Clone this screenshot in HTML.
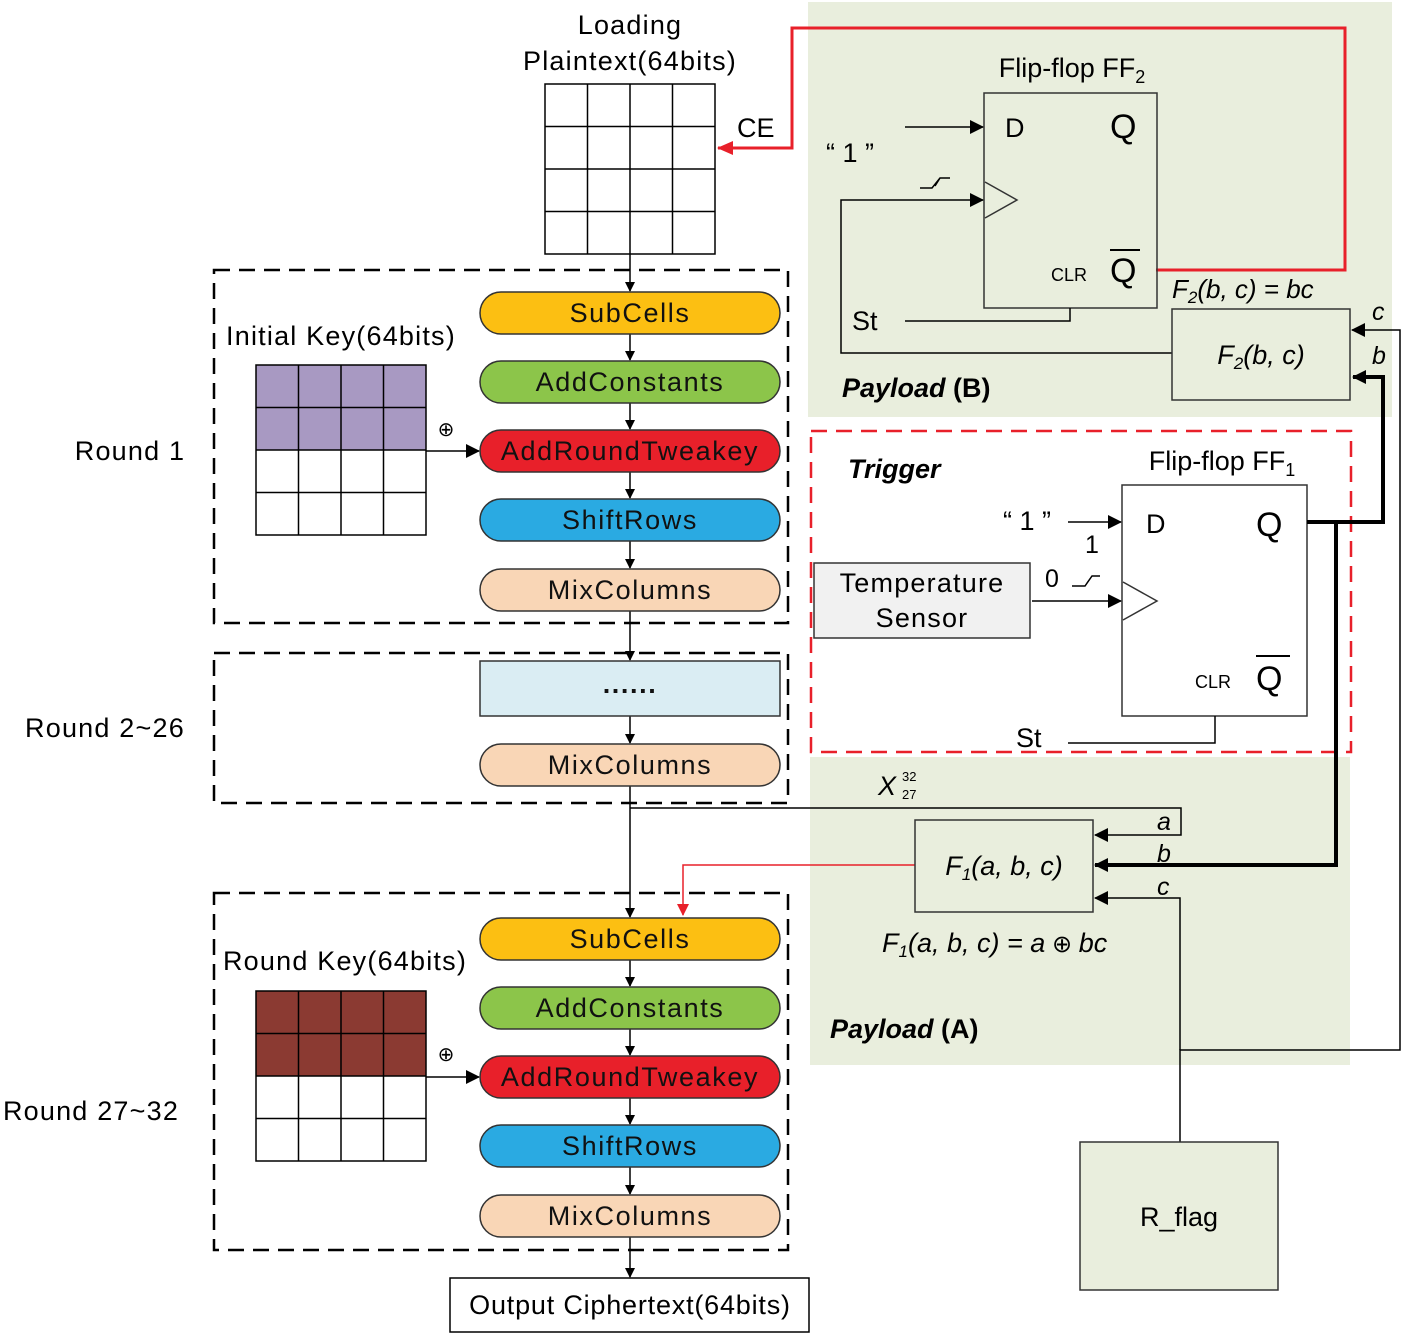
<!DOCTYPE html>
<html><head><meta charset="utf-8"><style>
html,body{margin:0;padding:0;background:#fff;}
svg{display:block;font-family:"Liberation Sans",Arial,sans-serif;}
.w{letter-spacing:1.2px;}
</style></head><body>
<svg width="1405" height="1337" viewBox="0 0 1405 1337" xmlns="http://www.w3.org/2000/svg">
<defs>
<marker id="ar" markerWidth="10" markerHeight="10" refX="9" refY="5" orient="auto" markerUnits="userSpaceOnUse"><path d="M0,0 L10,5 L0,10 z" fill="#000"/></marker>
<marker id="arb" markerWidth="14" markerHeight="14" refX="13" refY="7" orient="auto" markerUnits="userSpaceOnUse"><path d="M0,0 L14,7 L0,14 z" fill="#000"/></marker>
<marker id="arr" markerWidth="16" markerHeight="14" refX="15" refY="7" orient="auto" markerUnits="userSpaceOnUse"><path d="M0,0 L16,7 L0,14 z" fill="#e8202a"/></marker>
<marker id="arr2" markerWidth="12" markerHeight="12" refX="11" refY="6" orient="auto" markerUnits="userSpaceOnUse"><path d="M0,0 L12,6 L0,12 z" fill="#e8202a"/></marker>
</defs>

<rect x="808" y="2" width="584" height="415" fill="#e9eedd"/>
<rect x="810" y="757" width="540" height="308" fill="#e9eedd"/>

<text x="630" y="34" font-size="27" text-anchor="middle" class="w">Loading</text>
<text x="630" y="70" font-size="27" text-anchor="middle" class="w">Plaintext(64bits)</text>
<g stroke="#000" stroke-width="1.5" fill="#fff">
<rect x="545" y="84" width="170" height="170"/>
<path d="M587.5,84V254M630,84V254M672.5,84V254M545,126.5H715M545,169H715M545,211.5H715"/>
</g>
<text x="737" y="137" font-size="27">CE</text>

<polyline points="1156,270 1345,270 1345,28 792,28 792,148 718,148" fill="none" stroke="#e8202a" stroke-width="3" marker-end="url(#arr)"/>

<g fill="none" stroke="#000" stroke-width="2.5" stroke-dasharray="16,9">
<rect x="214" y="270" width="574" height="353"/>
<rect x="214" y="653" width="574" height="150"/>
<rect x="214" y="893" width="574" height="357"/>
</g>
<text x="130" y="460" font-size="27" text-anchor="middle" class="w">Round 1</text>
<text x="105" y="737" font-size="27" text-anchor="middle" class="w">Round 2~26</text>
<text x="91" y="1120" font-size="27" text-anchor="middle" class="w">Round 27~32</text>

<g stroke="#000" stroke-width="1.5" fill="none">
<line x1="630" y1="254" x2="630" y2="291" marker-end="url(#ar)"/>
<line x1="630" y1="334" x2="630" y2="360" marker-end="url(#ar)"/>
<line x1="630" y1="403" x2="630" y2="429" marker-end="url(#ar)"/>
<line x1="630" y1="472" x2="630" y2="498" marker-end="url(#ar)"/>
<line x1="630" y1="541" x2="630" y2="568" marker-end="url(#ar)"/>
<line x1="630" y1="611" x2="630" y2="660" marker-end="url(#ar)"/>
<line x1="630" y1="716" x2="630" y2="743" marker-end="url(#ar)"/>
<line x1="630" y1="786" x2="630" y2="917" marker-end="url(#ar)"/>
<line x1="630" y1="960" x2="630" y2="986" marker-end="url(#ar)"/>
<line x1="630" y1="1029" x2="630" y2="1055" marker-end="url(#ar)"/>
<line x1="630" y1="1098" x2="630" y2="1124" marker-end="url(#ar)"/>
<line x1="630" y1="1167" x2="630" y2="1194" marker-end="url(#ar)"/>
<line x1="630" y1="1237" x2="630" y2="1277" marker-end="url(#ar)"/>
<line x1="426" y1="451" x2="479" y2="451" marker-end="url(#arb)"/>
<line x1="426" y1="1077" x2="479" y2="1077" marker-end="url(#arb)"/>
</g>

<g stroke="#333" stroke-width="1.5">
<rect x="480" y="292" width="300" height="42" rx="21" fill="#fcbf12"/>
<rect x="480" y="361" width="300" height="42" rx="21" fill="#8cc54a"/>
<rect x="480" y="430" width="300" height="42" rx="21" fill="#e8202a"/>
<rect x="480" y="499" width="300" height="42" rx="21" fill="#2aaae2"/>
<rect x="480" y="569" width="300" height="42" rx="21" fill="#f9d6b6"/>
<rect x="480" y="661" width="300" height="55" fill="#daedf3"/>
<rect x="480" y="744" width="300" height="42" rx="21" fill="#f9d6b6"/>
<rect x="480" y="918" width="300" height="42" rx="21" fill="#fcbf12"/>
<rect x="480" y="987" width="300" height="42" rx="21" fill="#8cc54a"/>
<rect x="480" y="1056" width="300" height="42" rx="21" fill="#e8202a"/>
<rect x="480" y="1125" width="300" height="42" rx="21" fill="#2aaae2"/>
<rect x="480" y="1195" width="300" height="42" rx="21" fill="#f9d6b6"/>
</g>
<g font-size="27" text-anchor="middle" fill="#111" style="letter-spacing:1.6px">
<text x="630" y="322">SubCells</text>
<text x="630" y="391">AddConstants</text>
<text x="630" y="460">AddRoundTweakey</text>
<text x="630" y="529">ShiftRows</text>
<text x="630" y="599">MixColumns</text>
<text x="630" y="693" font-weight="bold">......</text>
<text x="630" y="774">MixColumns</text>
<text x="630" y="948">SubCells</text>
<text x="630" y="1017">AddConstants</text>
<text x="630" y="1086">AddRoundTweakey</text>
<text x="630" y="1155">ShiftRows</text>
<text x="630" y="1225">MixColumns</text>
</g>

<text x="341" y="345" font-size="27" text-anchor="middle" class="w">Initial Key(64bits)</text>
<rect x="256" y="365" width="170" height="85" fill="#a899c2"/>
<g stroke="#000" stroke-width="1.5" fill="none">
<rect x="256" y="365" width="170" height="170"/>
<path d="M298.5,365V535M341,365V535M383.5,365V535M256,407.5H426M256,450H426M256,492.5H426"/>
</g>
<text x="446" y="436" font-size="20" text-anchor="middle">⊕</text>

<text x="345" y="970" font-size="27" text-anchor="middle" class="w">Round Key(64bits)</text>
<rect x="256" y="991" width="170" height="85" fill="#8b3a32"/>
<g stroke="#000" stroke-width="1.5" fill="none">
<rect x="256" y="991" width="170" height="170"/>
<path d="M298.5,991V1161M341,991V1161M383.5,991V1161M256,1033.5H426M256,1076H426M256,1118.5H426"/>
</g>
<text x="446" y="1061" font-size="20" text-anchor="middle">⊕</text>

<rect x="450" y="1278" width="359" height="54" fill="#fff" stroke="#000" stroke-width="1.5"/>
<text x="630" y="1314" font-size="27" text-anchor="middle" style="letter-spacing:0.8px">Output Ciphertext(64bits)</text>

<text x="1072" y="77" font-size="27" text-anchor="middle">Flip-flop FF<tspan font-size="18" dy="6">2</tspan></text>
<rect x="984" y="93" width="173" height="215" fill="none" stroke="#333" stroke-width="1.5"/>
<polyline points="985,182 1017,200 985,218" fill="none" stroke="#333" stroke-width="1.5"/>
<text x="1005" y="137" font-size="27">D</text>
<text x="1110" y="138" font-size="34">Q</text>
<text x="1110" y="282" font-size="34">Q</text>
<line x1="1110" y1="250" x2="1140" y2="250" stroke="#000" stroke-width="2"/>
<text x="1051" y="281" font-size="18">CLR</text>
<text x="826" y="162" font-size="27">“ 1 ”</text>
<g stroke="#000" stroke-width="1.5" fill="none">
<line x1="905" y1="127" x2="983" y2="127" marker-end="url(#arb)"/>
<polyline points="1172,353 841,353 841,200 983,200" marker-end="url(#arb)"/>
<polyline points="905,321 1070,321 1070,308"/>
<path d="M920,188H932L940,178H950M935,186L940,178"/>
</g>
<text x="852" y="330" font-size="27">St</text>
<text x="1172" y="298" font-size="26" font-style="italic">F<tspan font-size="17" dy="5">2</tspan><tspan dy="-5">(b, c) = bc</tspan></text>
<rect x="1172" y="309" width="178" height="91" fill="none" stroke="#333" stroke-width="1.5"/>
<text x="1261" y="364" font-size="27" font-style="italic" text-anchor="middle">F<tspan font-size="17" dy="5">2</tspan><tspan dy="-5">(b, c)</tspan></text>
<text x="1372" y="320" font-size="25" font-style="italic">c</text>
<text x="1372" y="364" font-size="25" font-style="italic">b</text>
<text x="842" y="397" font-size="27" font-weight="bold"><tspan font-style="italic">Payload</tspan> (B)</text>

<rect x="811" y="431" width="540" height="321" fill="none" stroke="#e8202a" stroke-width="2.5" stroke-dasharray="16,9"/>
<text x="848" y="478" font-size="27" font-weight="bold" font-style="italic">Trigger</text>
<text x="1222" y="470" font-size="27" text-anchor="middle">Flip-flop FF<tspan font-size="18" dy="6">1</tspan></text>
<rect x="1122" y="485" width="185" height="231" fill="#fff" stroke="#333" stroke-width="1.5"/>
<polyline points="1123,582 1157,601 1123,620" fill="none" stroke="#333" stroke-width="1.5"/>
<text x="1146" y="533" font-size="27">D</text>
<text x="1256" y="536" font-size="34">Q</text>
<text x="1256" y="690" font-size="34">Q</text>
<line x1="1256" y1="656" x2="1290" y2="656" stroke="#000" stroke-width="2"/>
<text x="1195" y="688" font-size="18">CLR</text>
<text x="1003" y="530" font-size="27">“ 1 ”</text>
<text x="1085" y="553" font-size="25">1</text>
<text x="1045" y="587" font-size="25">0</text>
<rect x="814" y="563" width="216" height="75" fill="#f1f1f1" stroke="#333" stroke-width="1.5"/>
<text x="922" y="592" font-size="27" text-anchor="middle" class="w">Temperature</text>
<text x="922" y="627" font-size="27" text-anchor="middle" class="w">Sensor</text>
<g stroke="#000" stroke-width="1.5" fill="none">
<line x1="1032" y1="601" x2="1121" y2="601" marker-end="url(#arb)"/>
<line x1="1068" y1="522" x2="1121" y2="522" marker-end="url(#arb)"/>
<path d="M1072,586H1085L1092,576H1100M1087,583L1092,576"/>
<polyline points="1068,743 1215,743 1215,716"/>
</g>
<text x="1016" y="747" font-size="27">St</text>

<g stroke="#000" stroke-width="4" fill="none">
<polyline points="1307,522 1383,522 1383,377 1353,377" marker-end="url(#arb)"/>
<polyline points="1336,522 1336,865 1095,865" marker-end="url(#arb)"/>
</g>
<g stroke="#000" stroke-width="1.5" fill="none">
<polyline points="1180,1142 1180,1050 1400,1050 1400,330 1352,330" marker-end="url(#arb)"/>
<polyline points="1180,1050 1180,898 1095,898" marker-end="url(#arb)"/>
<polyline points="630,808 1181,808 1181,835 1095,835" marker-end="url(#arb)"/>
</g>
<polyline points="915,865 683,865 683,915" fill="none" stroke="#e8202a" stroke-width="1.5" marker-end="url(#arr2)"/>

<text x="878" y="795" font-size="27" font-style="italic">X</text>
<text x="902" y="781" font-size="13">32</text>
<text x="902" y="799" font-size="13">27</text>
<rect x="915" y="820" width="178" height="92" fill="none" stroke="#333" stroke-width="1.5"/>
<text x="1004" y="875" font-size="27" font-style="italic" text-anchor="middle">F<tspan font-size="17" dy="5">1</tspan><tspan dy="-5">(a, b, c)</tspan></text>
<text x="1157" y="830" font-size="25" font-style="italic">a</text>
<text x="1157" y="862" font-size="25" font-style="italic">b</text>
<text x="1157" y="895" font-size="25" font-style="italic">c</text>
<text x="882" y="952" font-size="27" font-style="italic">F<tspan font-size="17" dy="5">1</tspan><tspan dy="-5">(a, b, c) = a</tspan><tspan font-style="normal" font-size="24"> ⊕ </tspan>bc</text>
<text x="830" y="1038" font-size="27" font-weight="bold"><tspan font-style="italic">Payload</tspan> (A)</text>

<rect x="1080" y="1142" width="198" height="148" fill="#e9eedd" stroke="#333" stroke-width="1.5"/>
<text x="1179" y="1226" font-size="27" text-anchor="middle">R_flag</text>
</svg>
</body></html>
